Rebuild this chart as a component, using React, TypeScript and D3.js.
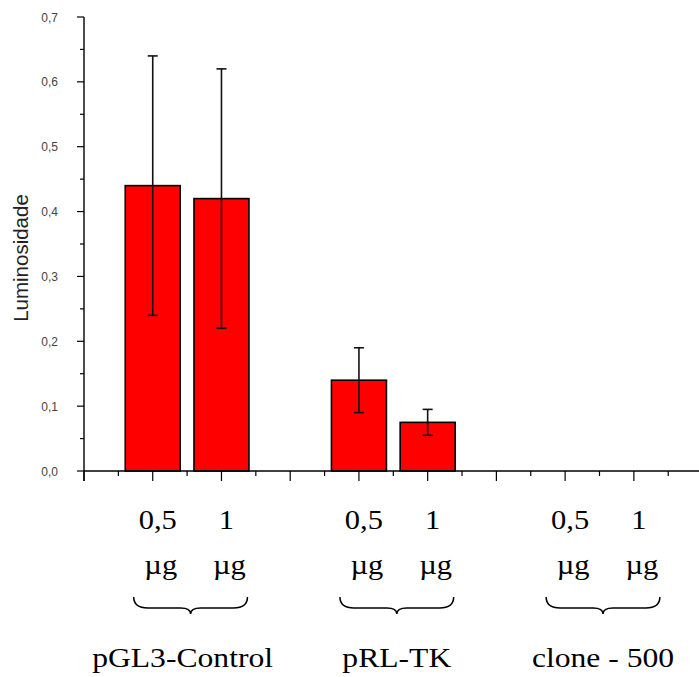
import { useEffect } from 'react';
import * as d3 from 'd3';

// bar values
const positions = [1, 2, 4, 5, 7, 8];
const means = [0.44, 0.42, 0.14, 0.075, 0, 0];
const errors = [0.2, 0.2, 0.05, 0.02, 0, 0];
const doseTop = ['0,5', '1', '0,5', '1', '0,5', '1'];
const doseBottom = ['\u00b5g', '\u00b5g', '\u00b5g', '\u00b5g', '\u00b5g', '\u00b5g'];
const groups = ['pGL3-Control', 'pRL-TK', 'clone - 500'];
const groupSpans = [[1, 2], [4, 5], [7, 8]];
const yTicks = [0, 0.1, 0.2, 0.3, 0.4, 0.5, 0.6, 0.7];
const yMinor = [0.05, 0.15, 0.25, 0.35, 0.45, 0.55, 0.65];
const xMajor = [0, 1, 2, 3, 4, 5, 6, 7, 8, 9];
const xMinor = [0.5, 1.5, 2.5, 3.5, 4.5, 5.5, 6.5, 7.5, 8.5];

const W = 699;
const H = 677;
const SERIF = 'Liberation Serif, Times New Roman, serif';
const SANS = 'Liberation Sans, Arial, sans-serif';

function bracePath(x0: number, x1: number, y: number) {
  const mid = (x0 + x1) / 2;
  const h = 11;
  return [
    `M${x0},${y}`,
    `Q${x0},${y + h} ${x0 + 14},${y + h}`,
    `L${mid - 10},${y + h}`,
    `Q${mid},${y + h} ${mid},${y + h + 6}`,
    `Q${mid},${y + h} ${mid + 10},${y + h}`,
    `L${x1 - 14},${y + h}`,
    `Q${x1},${y + h} ${x1},${y}`,
  ].join(' ');
}

// serif label, a bit wider than the plain font like the original
function Wide({ x, y, size, children }: { x: number; y: number; size: number; children: string }) {
  return (
    <text
      transform={`translate(${x},${y}) scale(1.13,1)`}
      textAnchor="middle"
      fontFamily={SERIF}
      fontSize={size}
      fill="#000"
    >
      {children}
    </text>
  );
}

export default function App() {
  useEffect(() => {
    document.body.style.margin = '0';
  }, []);

  const x = d3.scaleLinear().domain([0, 9]).range([84, 702.6]);
  const y = d3.scaleLinear().domain([0, 0.7]).range([471, 17]);
  const barW = x(0.8) - x(0);
  const fmt = (v: number) => v.toFixed(1).replace('.', ',');

  return (
    <svg width={W} height={H} style={{ display: 'block', background: '#fff' }}>
      {/* bars */}
      {positions.map((p, i) =>
        means[i] > 0 ? (
          <rect
            key={`b${i}`}
            x={x(p) - barW / 2}
            y={y(means[i])}
            width={barW}
            height={y(0) - y(means[i])}
            fill="#ff0000"
            stroke="#000"
            strokeWidth={1.6}
          />
        ) : null
      )}
      {/* error bars */}
      {positions.map((p, i) =>
        errors[i] > 0 ? (
          <g key={`e${i}`} stroke="#111" strokeWidth={1.6}>
            <line x1={x(p)} x2={x(p)} y1={y(means[i] + errors[i])} y2={y(means[i] - errors[i])} />
            <line x1={x(p) - 5} x2={x(p) + 5} y1={y(means[i] + errors[i])} y2={y(means[i] + errors[i])} />
            <line x1={x(p) - 5} x2={x(p) + 5} y1={y(means[i] - errors[i])} y2={y(means[i] - errors[i])} />
          </g>
        ) : null
      )}

      {/* y axis */}
      <line x1={x(0)} x2={x(0)} y1={y(0.7)} y2={y(0) + 10} stroke="#000" strokeWidth={1.4} />
      {yTicks.map((t) => (
        <g key={`yt${t}`}>
          <line x1={x(0) - 7} x2={x(0)} y1={y(t)} y2={y(t)} stroke="#000" strokeWidth={1.2} />
          <text x={58} y={y(t) + 4.5} textAnchor="end" fontFamily={SANS} fontSize={12} fill="#444">
            {fmt(t)}
          </text>
        </g>
      ))}
      {yMinor.map((t) => (
        <line key={`ym${t}`} x1={x(0) - 4} x2={x(0)} y1={y(t)} y2={y(t)} stroke="#000" strokeWidth={1.2} />
      ))}
      <text
        transform={`translate(28,258) rotate(-90)`}
        textAnchor="middle"
        fontFamily={SANS}
        fontSize={20.5}
        fill="#222"
      >
        Luminosidade
      </text>

      {/* x axis */}
      <line x1={x(0)} x2={W} y1={y(0)} y2={y(0)} stroke="#000" strokeWidth={1.4} />
      {xMajor.map((t) => (
        <line key={`xt${t}`} x1={x(t)} x2={x(t)} y1={y(0)} y2={y(0) + 10} stroke="#000" strokeWidth={1.2} />
      ))}
      {xMinor.map((t) => (
        <line key={`xm${t}`} x1={x(t)} x2={x(t)} y1={y(0)} y2={y(0) + 5} stroke="#000" strokeWidth={1.2} />
      ))}

      {/* dose labels */}
      {positions.map((p, i) => (
        <g key={`d${i}`}>
          <Wide x={x(p) + 5} y={529} size={27}>{doseTop[i]}</Wide>
          <Wide x={x(p) + 8} y={574} size={27}>{doseBottom[i]}</Wide>
        </g>
      ))}

      {/* group braces and names */}
      {groups.map((g, i) => {
        const x0 = x(groupSpans[i][0]) - 19;
        const x1 = x(groupSpans[i][1]) + 26;
        return (
          <g key={`g${i}`}>
            <path d={bracePath(x0, x1, 597)} fill="none" stroke="#000" strokeWidth={1.5} />
            <Wide x={(x0 + x1) / 2 - (i === 0 ? 8 : 0)} y={667} size={28}>{g}</Wide>
          </g>
        );
      })}
    </svg>
  );
}
